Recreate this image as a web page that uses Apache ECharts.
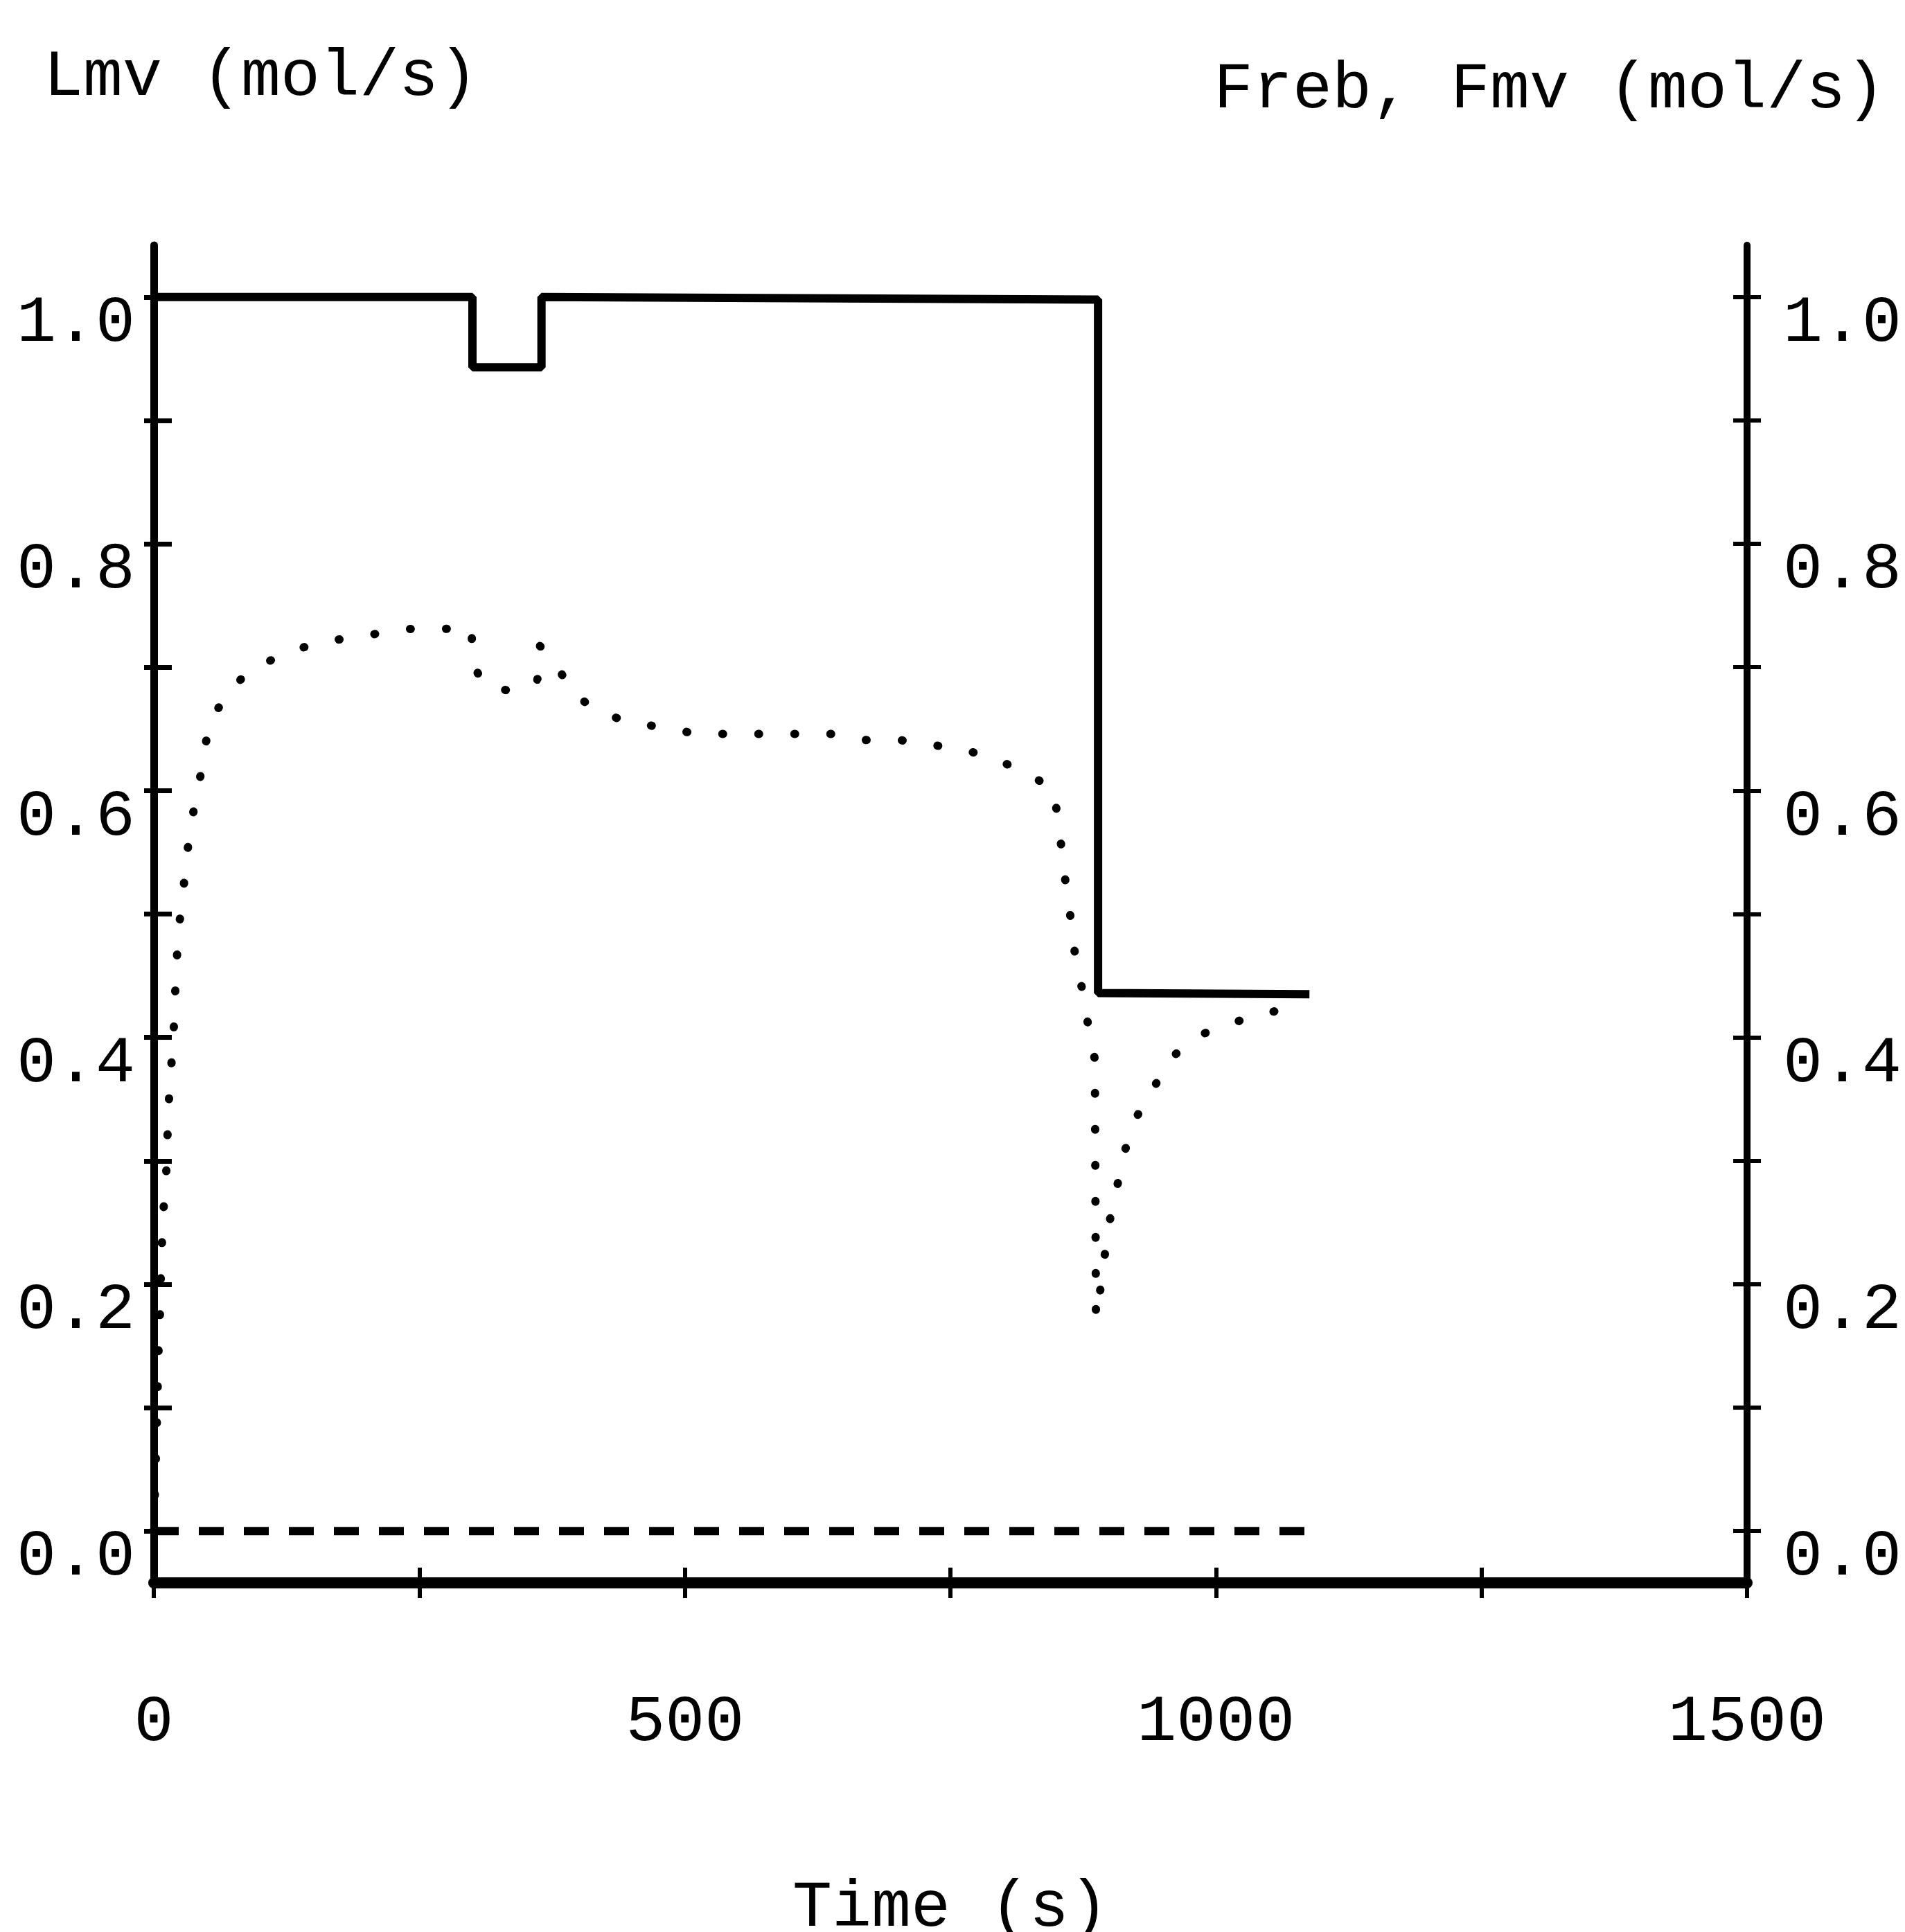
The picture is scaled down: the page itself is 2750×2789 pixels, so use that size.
<!DOCTYPE html>
<html>
<head>
<meta charset="utf-8">
<script src="https://cdn.jsdelivr.net/npm/echarts@6/dist/echarts.min.js"></script>
<style>
html,body{margin:0;padding:0;background:#ffffff;}
#chart{width:2750px;height:2789px;}
</style>
</head>
<body>
<div id="chart"></div>
<script>
// ---- data ----
const lmvTime  = [0, 300, 300, 365, 365, 889, 889, 1088];
const lmvValue = [1.0, 1.0, 0.943, 0.943, 1.0, 0.998, 0.436, 0.435];

const frebTime  = [0, 2, 3.5, 4.6, 5.9, 6.5, 7.7, 9.3, 11.7, 12.8, 14, 16.3, 18.6, 19.8, 21.3, 23.2, 27.1, 30.6, 34.2, 40.7, 46.5, 51.4, 67.2, 89.6, 118.2, 147.1, 177.4, 208.8, 240.2, 272.2, 299.2, 300, 312.3, 343.4, 361.2, 362.8, 379.1, 394.2, 420.3, 450.6, 480.9, 511.2, 543.8, 576.4, 607.7, 639, 670.7, 702.3, 733.6, 763.8, 794.1, 822.5, 847.2, 851.6, 855.8, 859.4, 864.4, 867.9, 874.9, 880, 886, 887, 891.9, 895.9, 900.9, 907.9, 914.9, 926.2, 941.8, 958.6, 982.5, 1011.6, 1041.3, 1072.2, 1086];
const frebValue = [0.0, 0.06, 0.11, 0.151, 0.178, 0.203, 0.234, 0.262, 0.290, 0.318, 0.346, 0.375, 0.402, 0.430, 0.458, 0.486, 0.514, 0.542, 0.570, 0.597, 0.624, 0.652, 0.677, 0.697, 0.709, 0.718, 0.723, 0.727, 0.731, 0.731, 0.732, 0.703, 0.684, 0.680, 0.690, 0.718, 0.702, 0.679, 0.663, 0.655, 0.651, 0.646, 0.646, 0.646, 0.646, 0.646, 0.641, 0.641, 0.637, 0.633, 0.625, 0.614, 0.601, 0.574, 0.545, 0.518, 0.490, 0.462, 0.436, 0.408, 0.382, 0.173, 0.200, 0.228, 0.256, 0.283, 0.310, 0.337, 0.360, 0.384, 0.401, 0.411, 0.418, 0.425, 0.427];

const fmvTime  = [0, 1088];
const fmvValue = [0.0, 0.0];

const xTickValues  = [0, 250, 500, 750, 1000, 1250, 1500];
const xLabelValues = [0, 500, 1000, 1500];
const yTickValues  = [0, 0.1, 0.2, 0.3, 0.4, 0.5, 0.6, 0.7, 0.8, 0.9, 1.0];
const yLabelValues = [0, 0.2, 0.4, 0.6, 0.8, 1.0];

const leftTitle  = 'Lmv (mol/s)';
const rightTitle = 'Freb, Fmv (mol/s)';
const xTitle     = 'Time (s)';

// ---- chart ----
const FONT = '"Liberation Mono", "DejaVu Sans Mono", monospace';
const FS = 95;
const zip = (a, b) => a.map((v, i) => [v, b[i]]);

const yMin = -0.042, yMax = 1.042;

function yAxisBase(pos) {
  return {
    type: 'value', position: pos, min: yMin, max: yMax,
    splitLine: { show: false },
    axisLine: { show: false, onZero: false },
    axisLabel: { show: false },
    axisTick: { show: false }
  };
}

const yLabelStyle = {
  show: true, customValues: yLabelValues, formatter: v => v.toFixed(1),
  verticalAlign: 'top', lineHeight: 76,
  color: '#000', fontFamily: FONT, fontSize: FS
};

const chart = echarts.init(document.getElementById('chart'), null, { renderer: 'canvas' });
chart.setOption({
  animation: false,
  backgroundColor: '#ffffff',
  grid: { left: 222, right: 228, top: 354, bottom: 504, outerBoundsMode: 'none' },
  xAxis: [
    {
      type: 'value', position: 'bottom', min: 0, max: 1500,
      splitLine: { show: false },
      axisLine: { show: true, onZero: false, lineStyle: { color: '#000', width: 16 } },
      axisTick: { show: true, customValues: xTickValues, length: 22, lineStyle: { color: '#000', width: 6 } },
      axisLabel: { customValues: xLabelValues, formatter: v => String(v), margin: 154,
        color: '#000', fontFamily: FONT, fontSize: FS },
      name: xTitle, nameLocation: 'middle', nameGap: 422,
      nameTextStyle: { color: '#000', fontFamily: FONT, fontSize: FS }
    },
    {
      type: 'value', position: 'bottom', min: 0, max: 1500,
      splitLine: { show: false },
      axisLine: { show: false, onZero: false },
      axisTick: { show: true, inside: true, customValues: xTickValues, length: 22, lineStyle: { color: '#000', width: 6 } },
      axisLabel: { show: false }
    }
  ],
  yAxis: [
    Object.assign(yAxisBase('left'), {
      axisLine: { show: true, onZero: false, lineStyle: { color: '#000', width: 11 } },
      axisTick: { show: true, customValues: yTickValues, length: 14, lineStyle: { color: '#000', width: 7 } },
      axisLabel: Object.assign({}, yLabelStyle, { margin: 27 })
    }),
    Object.assign(yAxisBase('left'), {
      axisTick: { show: true, inside: true, customValues: yTickValues, length: 26, lineStyle: { color: '#000', width: 7 } }
    }),
    Object.assign(yAxisBase('right'), {
      axisLine: { show: true, onZero: false, lineStyle: { color: '#000', width: 10 } },
      axisTick: { show: true, customValues: yTickValues, length: 20, lineStyle: { color: '#000', width: 6 } },
      axisLabel: Object.assign({}, yLabelStyle, { margin: 52 })
    }),
    Object.assign(yAxisBase('right'), {
      axisTick: { show: true, inside: true, customValues: yTickValues, length: 20, lineStyle: { color: '#000', width: 6 } }
    })
  ],
  graphic: [
    { type: 'text', x: 63, y: 112, silent: true,
      style: { text: leftTitle, fill: '#000', font: FS + 'px ' + FONT, verticalAlign: 'middle', align: 'left' } },
    { type: 'text', x: 1752, y: 130, silent: true,
      style: { text: rightTitle, fill: '#000', font: FS + 'px ' + FONT, verticalAlign: 'middle', align: 'left' } }
  ],
  series: [
    {
      name: 'Freb', type: 'line', xAxisIndex: 0, yAxisIndex: 2,
      data: zip(frebTime, frebValue), showSymbol: false, symbol: 'none', silent: true, z: 2,
      lineStyle: { color: '#000', width: 12, type: [1, 51], cap: 'round' }
    },
    {
      name: 'Fmv', type: 'line', xAxisIndex: 0, yAxisIndex: 2,
      data: zip(fmvTime, fmvValue), showSymbol: false, symbol: 'none', silent: true, z: 2,
      lineStyle: { color: '#000', width: 12, type: [36, 29], cap: 'butt' }
    },
    {
      name: 'Lmv', type: 'line', xAxisIndex: 0, yAxisIndex: 0,
      data: zip(lmvTime, lmvValue), showSymbol: false, symbol: 'none', silent: true, z: 3,
      lineStyle: { color: '#000', width: 12 }
    }
  ]
});
</script>
</body>
</html>
